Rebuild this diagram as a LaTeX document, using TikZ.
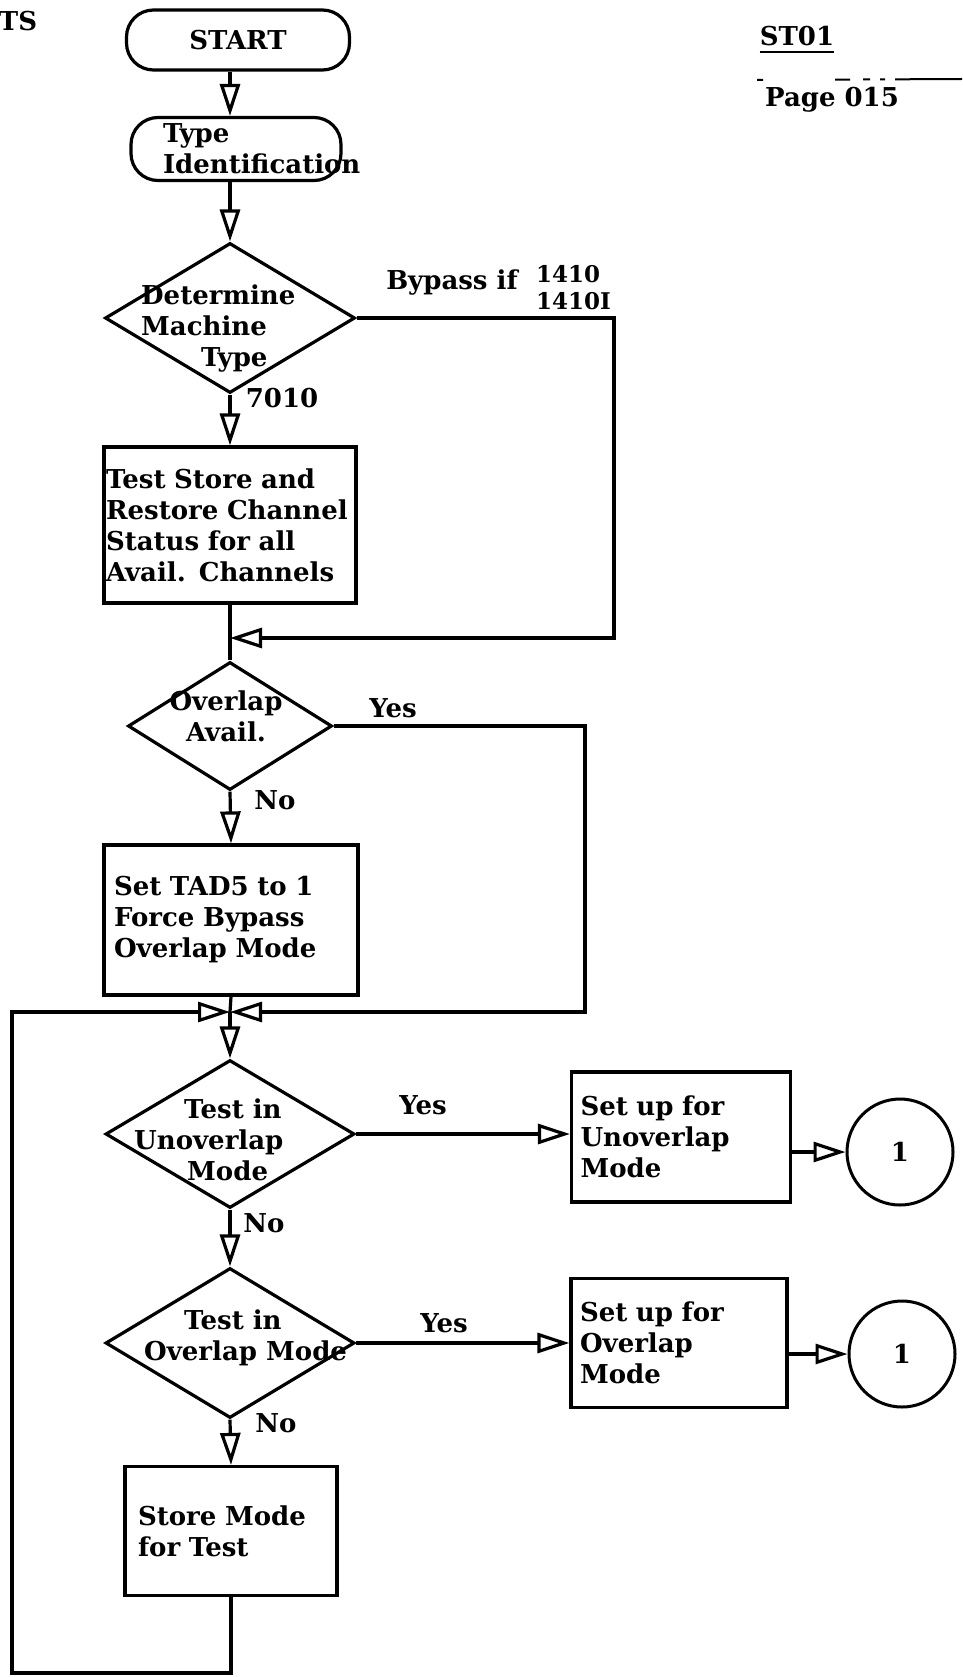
\documentclass[tikz,border=0pt]{standalone}
\usepackage{fontspec}
\setmainfont{DejaVu Serif}
\usetikzlibrary{arrows.meta, shapes.geometric}

\newcommand{\chartfont}{\fontsize{26}{31}\selectfont\bfseries\hyphenpenalty=10000\exhyphenpenalty=10000}
\newcommand{\smallnum}{\fontsize{23}{27}\selectfont\bfseries}

\begin{document}
\begin{tikzpicture}[
    x=1pt, y=-1pt,
    term/.style={draw, line width=3.2pt, rectangle, rounded corners=27pt, font=\chartfont, inner sep=0},
    proc/.style={draw, line width=3.2pt, rectangle, align=left, font=\chartfont, inner ysep=0},
    dec/.style={draw, line width=3.2pt, diamond, inner sep=0},
    onpage/.style={draw, circle, line width=3pt, minimum size=106pt, inner sep=0, font=\chartfont},
    txt/.style={font=\chartfont, inner sep=0, align=left},
    wire/.style={line width=3.2pt},
    flow/.style={wire, -{Triangle[length=32pt, width=20pt, fill=white]}}
]
\fill[white] (0,0) rectangle (962,1677);
\useasboundingbox (0,0) rectangle (962,1677);

% header
\node[txt] (ts) at (18,21) {TS};
\node[txt] (st01) at (797,36) {ST01};
\draw[line width=2.4pt] (st01.south west) ++(0,6) coordinate (ulA) -- (st01.south east |- ulA);
\node[txt] (page) at (832,100) {Page 015};
\coordinate (olA) at (757,80);
\coordinate (olB) at (962,79);
\draw[line width=2pt, dash pattern=on 6pt off 72pt on 15pt off 13pt on 7pt off 10pt on 5pt off 10pt on 80pt] (olA) -- (olB);

% main column
\node[term, minimum width=223pt, minimum height=60pt] (start) at (238,40) {START};
\node[term, minimum height=63pt, text width=146pt, inner xsep=32pt, align=left] (typeid) at (236,149) {Type\\Identification};
\node[dec, minimum width=250pt, minimum height=150pt] (mtype) at (230,318) {};
\node[txt, anchor=west] (mtypetxt) at (141,329) {Determine\\Machine\\\hspace*{60pt}Type};
\node[proc, text width=248pt, inner xsep=2pt, minimum height=156pt] (tsrs) at (230,525)
  {Test Store and\\Restore Channel\\Status for all\\Avail. Channels};
\node[dec, minimum width=204pt, minimum height=128pt] (ovl) at (230,726) {};
\node[txt, align=center] (ovltxt) at (226,716) {Overlap\\Avail.};
\node[proc, text width=234pt, inner xsep=10pt, minimum height=150pt] (tad) at (231,920)
  {Set TAD5 to 1\\Force Bypass\\Overlap Mode};
\node[dec, minimum width=249pt, minimum height=148pt] (unov) at (230,1134) {};
\node[txt, anchor=west] (unovtxt) at (134,1140) {\hspace*{50pt}Test in\\Unoverlap\\\hspace*{53pt}Mode};
\node[dec, minimum width=249pt, minimum height=150pt] (ovm) at (230,1343) {};
\node[txt, anchor=west] (ovmtxt) at (144,1338) {\hspace*{40pt}Test in\\Overlap Mode};
\node[proc, text width=186pt, inner xsep=13pt, minimum height=129pt] (store) at (231,1531)
  {Store Mode\\for Test};

% right side
\node[proc, text width=201pt, inner xsep=9pt, minimum height=130pt] (setun) at (681,1137)
  {Set up for\\Unoverlap\\Mode};
\node[onpage] (c1) at (900,1152) {1};
\node[proc, text width=198pt, inner xsep=9pt, minimum height=129pt] (setov) at (679,1343)
  {Set up for\\Overlap\\Mode};
\node[onpage] (c2) at (902,1354) {1};

% branch labels
\node[txt] (bypl) at (452,283) {Bypass if};
\node[txt, font=\smallnum, anchor=west] (bypn) at (536,288) {1410\\1410I};
\node[txt] (l7010) at (282,398) {7010};
\node[txt] (ovlyes) at (393,708) {Yes};
\node[txt] (ovlno) at (275,800) {No};
\node[txt] (unovyes) at (423,1105) {Yes};
\node[txt] (unovno) at (264,1223) {No};
\node[txt] (ovmyes) at (444,1323) {Yes};
\node[txt] (ovmno) at (276,1423) {No};

% junctions
\coordinate (j1) at (230,638);
\coordinate (j2) at (230,1012);
\coordinate (byp) at (614,638);
\coordinate (yc) at (585,1012);
\coordinate (lb) at (12,1673);
\coordinate (lt) at (12,1012);

% connectors
\draw[flow] (start.south -| mtype.north) -- (typeid.north -| mtype.north);
\draw[flow] (typeid.south -| mtype.north) -- (mtype.north);
\draw[flow] (mtype.south) -- (tsrs.north);
\draw[flow] (mtype.east) -| (byp) -- (j1);
\draw[wire] (tsrs.south) -- (ovl.north);
\draw[flow] (ovl.south) -- (tad.north);
\draw[flow] (ovl.east) -| (yc) -- (j2);
\draw[wire] (tad.south) -- (j2);
\draw[flow] (j2) -- (unov.north);
\draw[flow] (unov.east) -- (unov.east -| setun.west);
\draw[flow] (setun.east |- c1) -- (c1);
\draw[flow] (unov.south) -- (ovm.north);
\draw[flow] (ovm.east) -- (ovm.east -| setov.west);
\draw[flow] (setov.east |- c2) -- (c2);
\draw[flow] (ovm.south) -- (store.north);
\draw[flow] (store.south) |- (lb) -- (lt) -- (j2);
\end{tikzpicture}
\end{document}
